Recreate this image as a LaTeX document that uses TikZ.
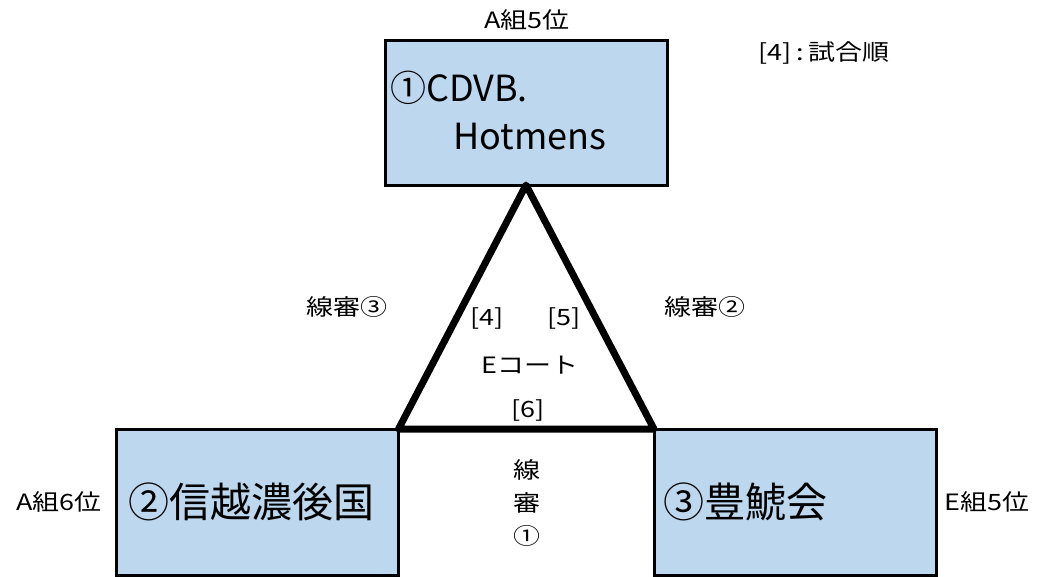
\documentclass[tikz,border=0pt]{standalone}
\usepackage{graphicx}
\usepackage{fontspec}
\setmainfont{Noto Sans CJK JP}
\usetikzlibrary{calc}

\definecolor{teamblue}{HTML}{BDD7EE}
\newcommand{\widetext}[1]{\scalebox{1.2}[1]{#1}}

\begin{document}
\begin{tikzpicture}[x=1pt,y=-1pt,
  team/.style={draw=black,line width=3pt,fill=teamblue,inner sep=0pt,outer sep=0pt,
    minimum width=282pt,minimum height=146pt},
  small/.style={font=\fontsize{22.5}{22.5}\selectfont,inner sep=0pt},
  big/.style={font=\fontsize{41}{41}\selectfont,inner sep=0pt}]

  \path[use as bounding box] (0,0) rectangle (1042,576);

  % teams
  \node[team,minimum height=145pt] (hot) at (526,112.5) {};
  \node[team] (shin) at (257.5,502) {};
  \node[team] (hoho) at (795,502) {};

  % court
  \draw[line width=7pt,line join=round] (hot.south) -- (shin.north east) -- (hoho.north west) -- cycle;

  \node[font=\fontsize{36}{36}\selectfont,inner sep=0pt,anchor=west] (hotA) at (390,88) {①CDVB.};
  \node[font=\fontsize{36}{36}\selectfont,inner sep=0pt] (hotB) at (530,137) {Hotmens};
  \node[big] (shinname) at (251,502) {②信越濃後国};
  \node[big] (hohoname) at (745,502) {③豊鯱会};

  % ranks
  \node[small] (rankhot) at (527,20) {\widetext{A組5位}};
  \node[small] (rankshin) at (59,502) {\widetext{A組6位}};
  \node[small] (rankhoho) at (987,502) {\widetext{E組5位}};
  \node[small] (legend) at (824,53) {\widetext{[4]\,:\,試合順}};

  % line judges and match order
  \node[small] (judgeC) at (347,307) {\widetext{線審③}};
  \node[small] (judgeB) at (705,307) {\widetext{線審②}};
  \node[small] (game4) at (487,318) {\widetext{[4]}};
  \node[small] (game5) at (564,318) {\widetext{[5]}};
  \node[small] (court) at (530,365) {\widetext{Eコート}};
  \node[small] (game6) at (528,410) {\widetext{[6]}};
  \foreach \ch [count=\i] in {線,審,①} {
    \node[small] (judgeA\i) at (527,{470+33*(\i-1)}) {\widetext{\ch}};
  }
\end{tikzpicture}
\end{document}
